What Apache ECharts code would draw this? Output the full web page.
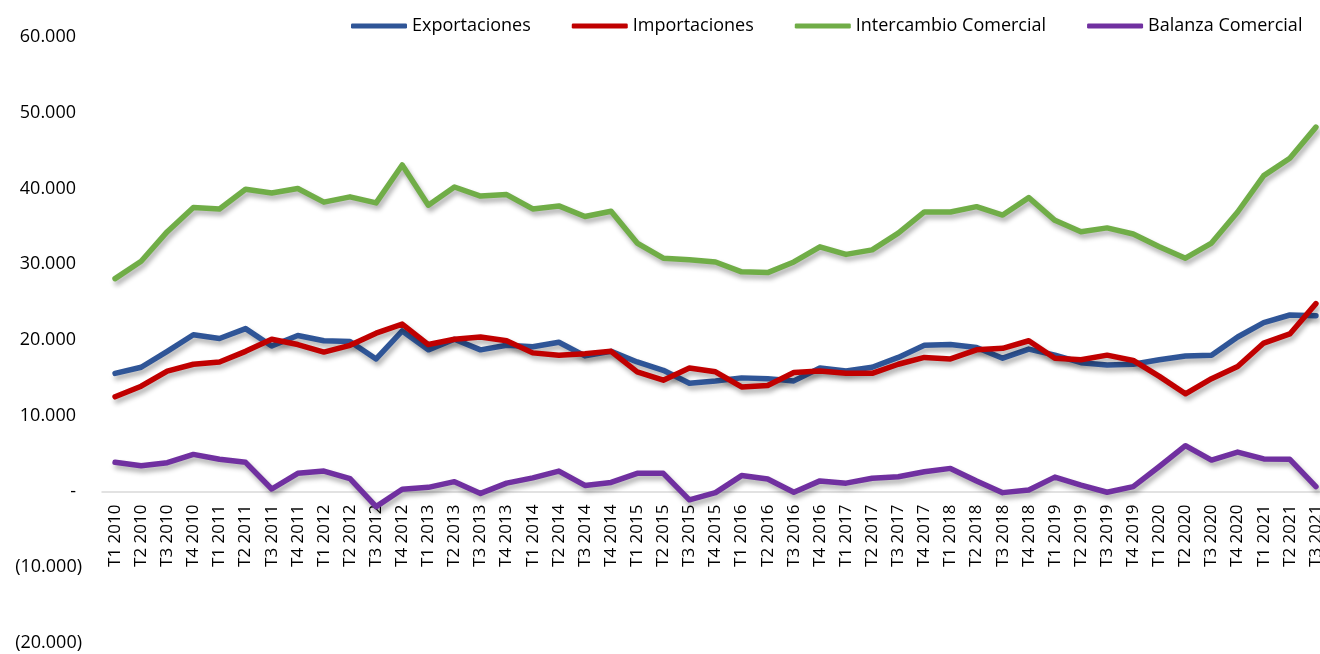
<!DOCTYPE html>
<html>
<head>
<meta charset="utf-8">
<script src="https://cdn.jsdelivr.net/npm/echarts@6/dist/echarts.min.js"></script>
<style>
  html, body { margin: 0; padding: 0; background: #fff; }
  #chart { width: 1320px; height: 654px; }
</style>
</head>
<body>
<div id="chart"></div>
<script>
// periodos trimestrales
var years = ['2010','2011','2012','2013','2014','2015','2016','2017','2018','2019','2020','2021'];
var categories = [];
years.forEach(function (y) {
    ['T1','T2','T3','T4'].forEach(function (q) {
        if (y === '2021' && q === 'T4') return;
        categories.push(q + ' ' + y);
    });
});

// valores
var exportaciones = [15600,16400,18500,20700,20200,21500,19200,20600,19900,19800,17500,21200,
    18700,20100,18700,19300,19100,19700,17900,18500,17100,16000,14300,14600,
    15000,14900,14600,16300,15900,16400,17700,19300,19400,19000,17600,18800,
    18000,17000,16700,16800,17400,17900,18000,20400,22300,23300,23200];
var importaciones = [12500,13900,15900,16800,17100,18500,20100,19400,18400,19300,20900,22100,
    19400,20100,20400,19900,18300,18000,18200,18500,15800,14700,16300,15800,
    13800,14000,15700,15900,15600,15600,16800,17700,17500,18700,18900,19900,
    17600,17400,18000,17300,15200,12900,14900,16500,19600,20800,24800];
var intercambio = [28100,30400,34300,37500,37300,39900,39400,40000,38200,38900,38100,43100,
    37800,40200,39000,39200,37300,37700,36300,37000,32800,30800,30600,30300,
    29000,28900,30300,32300,31300,31900,34100,36900,36900,37600,36500,38800,
    35800,34300,34800,34000,32300,30800,32800,36900,41700,44000,48100];
var balanza = [3850,3400,3800,4900,4250,3850,330,2400,2700,1700,-2000,300,
    550,1300,-250,1100,1800,2700,800,1200,2400,2400,-1100,-150,
    2100,1650,-100,1400,1100,1750,1950,2600,3050,1400,-150,200,
    1900,850,-100,650,3300,6050,4150,5200,4300,4250,650];

var seriesNames = ['Exportaciones','Importaciones','Intercambio Comercial','Balanza Comercial'];
var seriesColors = ['#2F5597','#C00000','#70AD47','#7030A0'];
var seriesData = [exportaciones, importaciones, intercambio, balanza];

var FONT = 'Open Sans';

// eje y: de -20.000 a 60.000; el eje x se dibuja en el cero
var yMin = -20000, yMax = 60000;
var gridTop = 37, gridBottom = 11, chartH = 654;

function fmtNum(v) {
    if (v === 0) return '{p|-}';
    var s = Math.abs(v).toString().replace(/\B(?=(\d{3})+(?!\d))/g, '.');
    return v < 0 ? '{n|(' + s + ')}' : '{p|' + s + '}';
}

var myChart = echarts.init(document.getElementById('chart'));

var plotH = chartH - gridTop - gridBottom;
var zeroShift = plotH * (0 - yMin) / (yMax - yMin); // distancia del cero al borde inferior

var series = seriesData.map(function (d, i) {
    return {
        name: seriesNames[i],
        type: 'line',
        data: d,
        symbol: 'none',
        smooth: false,
        lineStyle: {
            width: 5.5,
            color: seriesColors[i],
            cap: 'round',
            join: 'round',
            shadowColor: 'rgba(0,0,0,0.32)',
            shadowBlur: 5,
            shadowOffsetX: 2,
            shadowOffsetY: 4
        },
        itemStyle: { color: seriesColors[i] }
    };
});

var option = {
    animation: false,
    backgroundColor: '#fff',
    legend: {
        data: seriesNames,
        top: 12,
        left: 346,
        icon: 'roundRect',
        itemWidth: 56,
        itemHeight: 5,
        itemGap: 41,
        textStyle: { fontFamily: FONT, fontSize: 18, color: '#000' }
    },
    grid: {
        left: 102,
        right: -9,
        top: gridTop,
        bottom: gridBottom,
        containLabel: false,
        outerBoundsMode: 'none'
    },
    xAxis: {
        type: 'category',
        data: categories,
        boundaryGap: true,
        offset: -zeroShift,
        axisLine: { onZero: false, lineStyle: { color: '#D9D9D9', width: 1.5 } },
        axisTick: { show: false },
        axisLabel: {
            interval: 0,
            rotate: 90,
            margin: 13,
            fontFamily: FONT,
            fontSize: 17,
            color: '#000'
        }
    },
    yAxis: {
        type: 'value',
        min: yMin,
        max: yMax,
        interval: 10000,
        axisLine: { show: false },
        axisTick: { show: false },
        splitLine: { show: false },
        axisLabel: {
            margin: 20,
            formatter: fmtNum,
            rich: {
                p: { fontFamily: FONT, fontSize: 18, color: '#000', padding: [0, 6, 0, 0] },
                n: { fontFamily: FONT, fontSize: 18, color: '#000' }
            }
        }
    },
    series: series
};

myChart.setOption(option);
</script>
</body>
</html>
